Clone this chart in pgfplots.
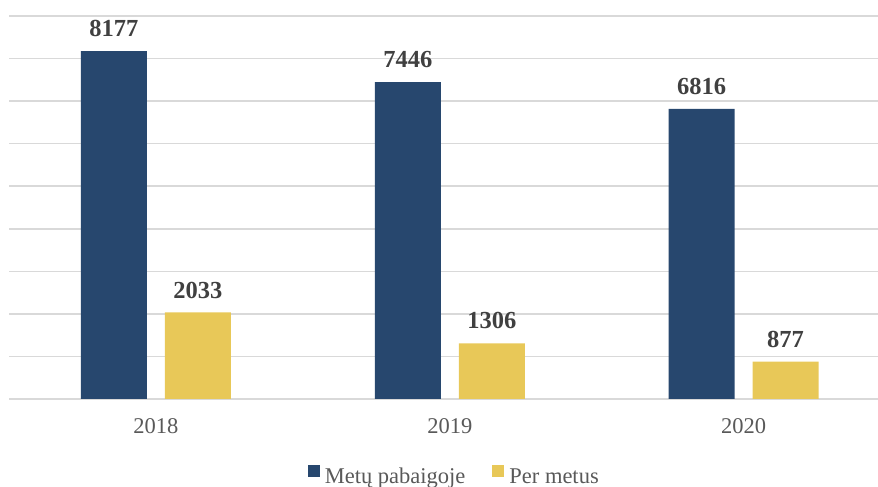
\documentclass[border=0pt]{standalone}
\usepackage{pgfplots}
\pgfplotsset{compat=1.18}
\usepackage{fontspec}
\setmainfont{Liberation Serif}
\definecolor{barblue}{HTML}{27476E}
\definecolor{baryellow}{HTML}{E8C858}
\definecolor{gridgray}{HTML}{D9D9D9}
\definecolor{labelgray}{HTML}{404040}
\definecolor{tickgray}{HTML}{595959}
\pgfplotsset{
  sqlegend/.style={legend image code/.code={\fill[##1,draw=none] (0bp,0bp) rectangle (12bp,12bp);}}
}
\begin{document}
\begin{tikzpicture}
\path[use as bounding box, clip] (0,0) rectangle (878bp,487bp);
\begin{axis}[
  at={(9bp,88bp)}, anchor=south west,
  scale only axis,
  width=881.5bp, height=383bp,
  ybar,
  ymin=0, ymax=9000,
  xmin=-0.5, xmax=2.5,
  xtick={0,1,2},
  xticklabels={2018,2019,2020},
  ytick={0,1000,...,9000},
  yticklabels={},
  ymajorgrids,
  grid style={line width=1.5bp, color=gridgray},
  axis line style={draw=none},
  major tick length=0pt,
  bar width=66bp,
  xticklabel style={font=\fontsize{22.5bp}{27bp}\selectfont, text=tickgray, inner sep=0pt, yshift=-19bp},
  nodes near coords={\pgfmathprintnumber[1000 sep={},assume math mode=true]{\pgfplotspointmeta}},
  every node near coord/.append style={font=\bfseries\fontsize{24.5bp}{29bp}\selectfont, text=labelgray, inner sep=0pt, anchor=south, yshift=14bp},
  legend columns=2,
  legend style={at={(0.504,-0.198)}, anchor=center, draw=none, fill=none, inner sep=0pt,
    font=\fontsize{22.5bp}{26bp}\selectfont, text=tickgray,
    /tikz/every odd column/.append style={column sep=5bp},
    /tikz/every even column/.append style={column sep=27bp},
    nodes={inner sep=0pt}},
  legend cell align=left,
]
\addplot[fill=barblue, draw=none, bar shift=-42bp, sqlegend] coordinates {(0,8177) (1,7446) (2,6816)};
\addplot[fill=baryellow, draw=none, bar shift=42bp, sqlegend] coordinates {(0,2033) (1,1306) (2,877)};
\legend{Metų pabaigoje, Per metus}
\end{axis}
\end{tikzpicture}
\end{document}
